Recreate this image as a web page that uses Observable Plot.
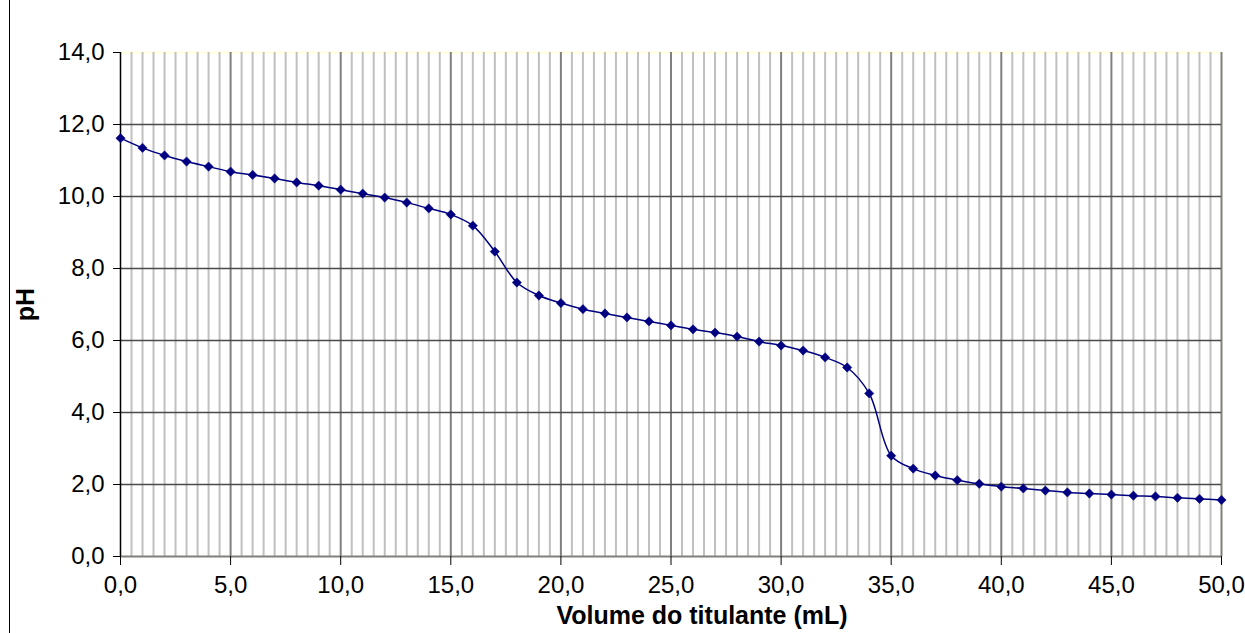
<!DOCTYPE html>
<html>
<head>
<meta charset="utf-8">
<script src="https://cdn.jsdelivr.net/npm/d3@7"></script>
<script src="https://cdn.jsdelivr.net/npm/@observablehq/plot@0.6"></script>
<style>
  html, body { margin: 0; padding: 0; background: #fff; }
  #wrap { position: relative; width: 1245px; height: 633px; }
  #edge { position: absolute; left: 9px; top: 0; width: 0; height: 633px; border-left: 1px solid #000; }
  svg { font-family: "Liberation Sans", Arial, sans-serif; }
</style>
</head>
<body>
<div id="wrap"><div id="edge"></div></div>
<script>
const volume = [0,1,2,3,4,5,6,7,8,9,10,11,12,13,14,15,16,17,18,19,20,21,22,23,24,25,26,27,28,29,30,31,32,33,34,35,36,37,38,39,40,41,42,43,44,45,46,47,48,49,50];
const pH = [11.62,11.35,11.14,10.97,10.83,10.69,10.60,10.50,10.39,10.30,10.19,10.08,9.97,9.83,9.67,9.50,9.19,8.47,7.61,7.25,7.04,6.87,6.75,6.64,6.53,6.42,6.31,6.22,6.11,5.97,5.86,5.72,5.53,5.25,4.53,2.80,2.44,2.25,2.12,2.02,1.94,1.89,1.83,1.78,1.75,1.72,1.69,1.67,1.63,1.60,1.57];
const xTicks = [0,5,10,15,20,25,30,35,40,45,50];
const yTicks = [0,2,4,6,8,10,12,14];
const minorX = d3.range(0, 50.5, 0.5).filter(v => v % 5 !== 0);

const data = volume.map((v, i) => ({v, p: pH[i]}));
const fmt = d => d.toFixed(1).replace(".", ",");

const chart = Plot.plot({
  width: 1245,
  height: 633,
  marginLeft: 120,
  marginRight: 24,
  marginTop: 52,
  marginBottom: 77,
  style: {fontFamily: "'Liberation Sans', Arial, sans-serif", fontSize: "24px", background: "transparent"},
  x: {domain: [0, 50]},
  y: {domain: [0, 14]},
  marks: [
    Plot.frame({stroke: "#ffffd0", strokeWidth: 1.5}),
    Plot.ruleX(minorX, {stroke: "#c0c0c0", strokeWidth: 2}),
    Plot.ruleX(xTicks.filter(d => d > 0), {stroke: "#808080", strokeWidth: 2}),
    Plot.ruleY(yTicks.filter(d => d > 0 && d < 14), {stroke: "#4a4a4a", strokeWidth: 1.5}),
    Plot.ruleY([0], {stroke: "#808080", strokeWidth: 2}),
    Plot.ruleX([0], {stroke: "#000", strokeWidth: 1.5}),
    Plot.axisY({ticks: yTicks, tickFormat: fmt, tickSize: 7, tickPadding: 9, fontSize: 24, label: "pH", labelAnchor: "center", labelArrow: "none", labelOffset: 104}),
    Plot.axisX({ticks: xTicks, tickFormat: fmt, tickSize: 9, tickPadding: 10, fontSize: 24, label: "Volume do titulante (mL)", labelAnchor: "center", labelArrow: "none", labelOffset: 67}),
    Plot.line(data, {x: "v", y: "p", stroke: "#000080", strokeWidth: 1.5, curve: "catmull-rom"}),
    Plot.dot(data, {x: "v", y: "p", symbol: "diamond2", r: 4.2, fill: "#000080", stroke: "#000080", strokeWidth: 0.5})
  ]
});
chart.querySelectorAll("g[aria-label='x-axis label'] text, g[aria-label='y-axis label'] text").forEach(t => {
  t.style.fontWeight = "bold";
  t.style.fontSize = "25px";
});
chart.querySelectorAll("g[aria-label='x-axis label'] text").forEach(t => {
  t.setAttribute("dx", "31");
});
chart.querySelectorAll("g[aria-label='x-axis tick label'] text, g[aria-label='y-axis tick label'] text").forEach(t => {
  t.style.fontSize = "24px";
});
document.getElementById("wrap").appendChild(chart);
chart.style.position = "absolute";
chart.style.left = "0";
chart.style.top = "0";
</script>
</body>
</html>
